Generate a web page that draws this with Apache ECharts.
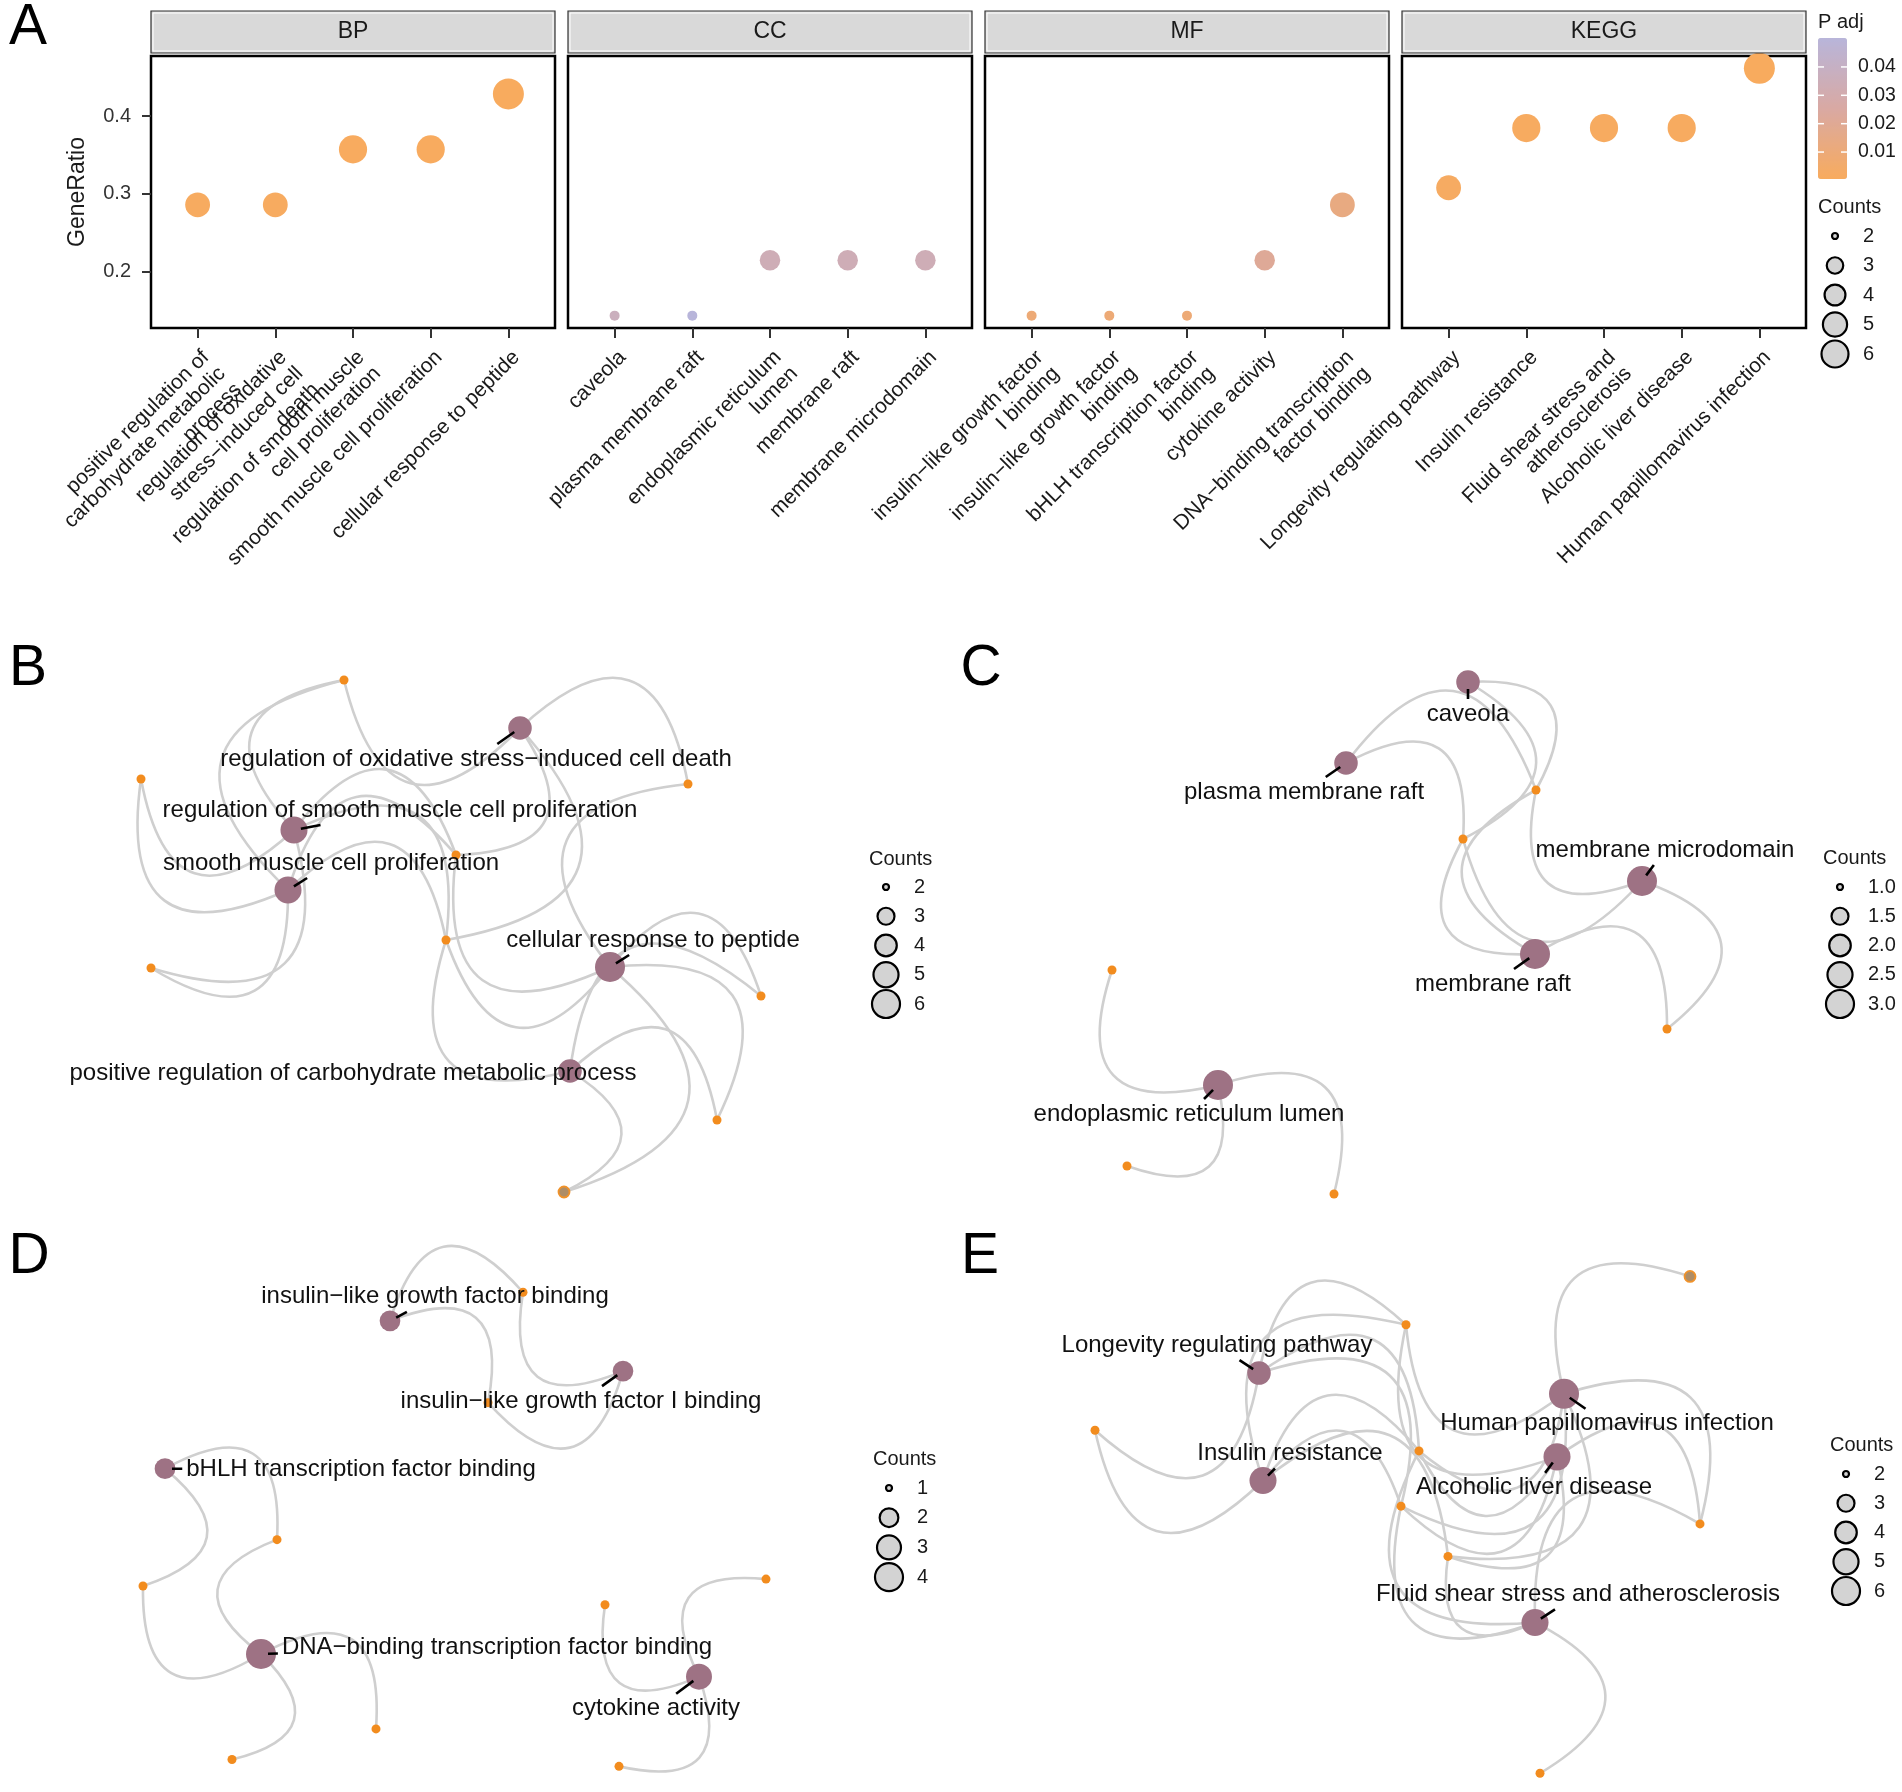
<!DOCTYPE html>
<html><head><meta charset="utf-8">
<script src="https://cdn.jsdelivr.net/npm/echarts@6/dist/echarts.min.js"></script>
<style>html,body{margin:0;padding:0;background:#fff}#c{width:1902px;height:1792px}</style>
</head><body><div id="c"></div>
<script>
// ================= DATA =================
// Panel A – enrichment dot plot
const facetNames = ['BP', 'CC', 'MF', 'KEGG'];
const bpTerms = ['positive regulation of\ncarbohydrate metabolic\nprocess', 'regulation of oxidative\nstress\u2212induced cell\ndeath', 'regulation of smooth muscle\ncell proliferation', 'smooth muscle cell proliferation', 'cellular response to peptide'];
const bpRatio = [0.2857, 0.2857, 0.3571, 0.3571, 0.4286];
const bpCount = [4, 4, 5, 5, 6];
const bpPadj = [0.0012, 0.0012, 0.0009, 0.0009, 0.0005];
const ccTerms = ['caveola', 'plasma membrane raft', 'endoplasmic reticulum\nlumen', 'membrane raft', 'membrane microdomain'];
const ccRatio = [0.1429, 0.1429, 0.2143, 0.2143, 0.2143];
const ccCount = [2, 2, 3, 3, 3];
const ccPadj = [0.037, 0.0502, 0.034, 0.034, 0.034];
const mfTerms = ['insulin\u2212like growth factor\nI binding', 'insulin\u2212like growth factor\nbinding', 'bHLH transcription factor\nbinding', 'cytokine activity', 'DNA\u2212binding transcription\nfactor binding'];
const mfRatio = [0.1429, 0.1429, 0.1429, 0.2143, 0.2857];
const mfCount = [2, 2, 2, 3, 4];
const mfPadj = [0.009, 0.009, 0.009, 0.021, 0.013];
const keggTerms = ['Longevity regulating pathway', 'Insulin resistance', 'Fluid shear stress and\natherosclerosis', 'Alcoholic liver disease', 'Human papillomavirus infection'];
const keggRatio = [0.3077, 0.3846, 0.3846, 0.3846, 0.4615];
const keggCount = [4, 5, 5, 5, 6];
const keggPadj = [0.002, 0.0012, 0.0012, 0.0012, 0.0006];
const yTicks = [0.2, 0.3, 0.4];
const padjTicks = [0.01, 0.02, 0.03, 0.04];
const countLegendA = [2, 3, 4, 5, 6];

// Panel B – BP network (layout coordinates)
const netBCats = ['regulation of oxidative stress\u2212induced cell death', 'regulation of smooth muscle cell proliferation', 'smooth muscle cell proliferation', 'cellular response to peptide', 'positive regulation of carbohydrate metabolic process'];
const netBCounts = [4, 5, 5, 6, 4];
const netBCatXY = [[52.0, 8.8], [29.4, 19.0], [28.8, 25.0], [61.0, 32.7], [57.0, 43.1]];
const netBGeneXY = [[34.4, 4.0], [14.1, 13.9], [68.8, 14.4], [45.6, 21.5], [44.6, 30.0], [15.1, 32.8], [76.1, 35.6], [71.7, 48.0], [56.4, 55.2]];
const netBGeneType = [0, 0, 0, 0, 0, 0, 0, 0, 1];
const netBEdges = [[0,0],[0,2],[0,3],[0,4],[1,0],[1,1],[1,3],[1,4],[1,5],[2,0],[2,1],[2,3],[2,4],[2,5],[3,2],[3,3],[3,4],[3,6],[3,7],[3,8],[4,4],[4,6],[4,7],[4,8]];
const netBLegend = [2, 3, 4, 5, 6];

// Panel C – CC network
const netCCats = ['caveola', 'plasma membrane raft', 'membrane microdomain', 'membrane raft', 'endoplasmic reticulum lumen'];
const netCCounts = [2, 2, 3, 3, 3];
const netCCatXY = [[51.7, 4.2], [39.5, 12.3], [69.1, 24.1], [58.4, 31.4], [26.7, 44.5]];
const netCGeneXY = [[58.5, 15.0], [51.2, 19.9], [71.6, 38.9], [16.1, 33.0], [17.6, 52.6], [38.3, 55.4]];
const netCGeneType = [0, 0, 0, 0, 0, 0];
const netCEdges = [[0,0],[0,1],[1,0],[1,1],[2,0],[2,1],[2,2],[3,0],[3,1],[3,2],[4,3],[4,4],[4,5]];
const netCLegend = ['1.0', '1.5', '2.0', '2.5', '3.0'];

// Panel D – MF network
const netDCats = ['insulin\u2212like growth factor binding', 'insulin\u2212like growth factor I binding', 'bHLH transcription factor binding', 'DNA\u2212binding transcription factor binding', 'cytokine activity'];
const netDCounts = [2, 2, 2, 4, 3];
const netDCatXY = [[39.0, 8.2], [62.3, 13.3], [16.5, 23.2], [26.1, 42.0], [69.9, 44.3]];
const netDGeneXY = [[52.3, 5.3], [48.8, 16.5], [27.7, 30.4], [14.3, 35.1], [60.5, 37.0], [76.6, 34.4], [37.6, 49.6], [23.2, 52.7], [61.9, 53.4]];
const netDGeneType = [0, 0, 0, 0, 0, 0, 0, 0, 0];
const netDEdges = [[0,0],[0,1],[1,0],[1,1],[2,2],[2,3],[3,2],[3,3],[3,6],[3,7],[4,4],[4,5],[4,8]];
const netDLegend = [1, 2, 3, 4];

// Panel E – KEGG network
const netECats = ['Longevity regulating pathway', 'Human papillomavirus infection', 'Insulin resistance', 'Alcoholic liver disease', 'Fluid shear stress and atherosclerosis'];
const netECounts = [4, 6, 5, 5, 5];
const netECatXY = [[30.8, 13.5], [61.3, 15.6], [31.2, 24.4], [60.6, 22.0], [58.4, 38.8]];
const netEGeneXY = [[73.9, 3.7], [45.5, 8.6], [14.4, 19.3], [46.8, 21.4], [45.0, 27.0], [74.9, 28.8], [49.7, 32.1], [58.9, 54.1]];
const netEGeneType = [1, 0, 0, 0, 0, 0, 0, 0];
const netEEdges = [[0,1],[0,2],[0,3],[0,4],[1,0],[1,1],[1,3],[1,4],[1,5],[1,6],[2,1],[2,2],[2,3],[2,4],[2,6],[3,1],[3,3],[3,4],[3,5],[3,6],[4,3],[4,4],[4,5],[4,6],[4,7]];
const netELegend = [2, 3, 4, 5, 6];

// ================= LAYOUT / STYLE =================
const FONT = '"Liberation Sans", Arial, Helvetica, sans-serif';
const CAT_COLOR = '#9E7284';
const GENE_COLOR = '#F28C1E';
const NET_FONT = 24;
// label placement (px offset of label centre from node centre), ggrepel-like
const netBLabelOff = [[-44, 31], [106, -20], [43, -27], [43, -27], [-217, 2]];
const netCLabelOff = [[0, 32], [-42, 29], [23, -31], [-42, 30], [-29, 29]];
const netDLabelOff = [[45, -24], [-42, 30], [196, 1], [236, -7], [-43, 32]];
const netELabelOff = [[-42, -28], [43, 30], [27, -27], [-23, 31], [43, -28]];

const aLeft = [151, 568, 985, 1402], aTop = 56, aW = 404, aH = 272;
const X_MIN = 0.4, X_MAX = 5.6; // discrete scale with ggplot expansion
const netGrids = [[0, 640], [951, 640], [0, 1240], [951, 1240]];
const NET_W = 951, NET_H = 560;
// legends: [circleCenterX, firstItemY, itemStep, titleX, titleY]
const legA = [1835, 236, 29.5, 1818, 207];
const legNets = [[886, 887, 29.25, 869, 859], [1840, 887, 29.25, 1823, 858], [889, 1488, 29.7, 873, 1459], [1846, 1474, 29.25, 1830, 1445]];

function sizeScale(vmin, vmax, dmin, dmax) {
  return c => dmin + (dmax - dmin) * Math.sqrt((c - vmin) / (vmax - vmin));
}
const measureCtx = document.createElement('canvas').getContext('2d');
function textW(t, size) { measureCtx.font = size + 'px ' + FONT; return measureCtx.measureText(t).width; }

const facets = [
  { terms: bpTerms, ratio: bpRatio, count: bpCount, padj: bpPadj },
  { terms: ccTerms, ratio: ccRatio, count: ccCount, padj: ccPadj },
  { terms: mfTerms, ratio: mfRatio, count: mfCount, padj: mfPadj },
  { terms: keggTerms, ratio: keggRatio, count: keggCount, padj: keggPadj }
];
const allRatio = [].concat(bpRatio, ccRatio, mfRatio, keggRatio);
const rMin = Math.min(...allRatio), rMax = Math.max(...allRatio);
const yMin = rMin - 0.05 * (rMax - rMin), yMax = rMax + 0.05 * (rMax - rMin);
const allPadj = [].concat(bpPadj, ccPadj, mfPadj, keggPadj);
const pMin = Math.min(...allPadj), pMax = Math.max(...allPadj);
const sizeA = sizeScale(Math.min(...countLegendA), Math.max(...countLegendA), 10, 31);

const nets = [
  { id: 'B', cats: netBCats, counts: netBCounts, catXY: netBCatXY, geneXY: netBGeneXY, geneType: netBGeneType, edges: netBEdges, legend: netBLegend, off: netBLabelOff },
  { id: 'C', cats: netCCats, counts: netCCounts, catXY: netCCatXY, geneXY: netCGeneXY, geneType: netCGeneType, edges: netCEdges, legend: netCLegend, off: netCLabelOff },
  { id: 'D', cats: netDCats, counts: netDCounts, catXY: netDCatXY, geneXY: netDGeneXY, geneType: netDGeneType, edges: netDEdges, legend: netDLegend, off: netDLabelOff },
  { id: 'E', cats: netECats, counts: netECounts, catXY: netECatXY, geneXY: netEGeneXY, geneType: netEGeneType, edges: netEEdges, legend: netELegend, off: netELabelOff }
];

const grid = [], xAxis = [], yAxis = [], series = [], graphic = [];

// ---- Panel A grids (points on a value scale with ggplot-like expansion)
facets.forEach((f, i) => {
  grid.push({ left: aLeft[i], top: aTop, width: aW, height: aH, show: true, borderColor: '#000', borderWidth: 2.5, backgroundColor: '#fff' });
  xAxis.push({ type: 'value', gridIndex: i, min: X_MIN, max: X_MAX, splitLine: { show: false }, axisLine: { show: false }, axisTick: { show: false }, axisLabel: { show: false } });
  yAxis.push({
    type: 'value', gridIndex: i, min: yMin, max: yMax, splitLine: { show: false }, axisLine: { show: false },
    axisTick: { show: i === 0, customValues: yTicks, length: 9, lineStyle: { color: '#333', width: 2 } },
    axisLabel: { show: i === 0, customValues: yTicks, margin: 20, fontSize: 20, color: '#333', fontFamily: FONT, formatter: v => v.toFixed(1) },
    name: i === 0 ? 'GeneRatio' : '', nameLocation: 'middle', nameRotate: 90, nameGap: 62,
    nameTextStyle: { fontSize: 23, color: '#1a1a1a', fontFamily: FONT }
  });
  series.push({
    type: 'scatter', xAxisIndex: i, yAxisIndex: i, z: 3, silent: true,
    data: f.terms.map((t, k) => [k + 1, f.ratio[k], f.padj[k], f.count[k]]),
    encode: { x: 0, y: 1 },
    symbolSize: v => sizeA(v[3]),
    itemStyle: { opacity: 1 }
  });
});

// ---- Network grids
nets.forEach((n, k) => {
  const gi = 4 + k;
  grid.push({ left: netGrids[k][0], top: netGrids[k][1], width: NET_W, height: NET_H, show: false });
  xAxis.push({ type: 'value', gridIndex: gi, min: 0, max: NET_W / 10, show: false });
  yAxis.push({ type: 'value', gridIndex: gi, min: 0, max: NET_H / 10, inverse: true, show: false });
});
nets.forEach((n, k) => {
  const gi = 4 + k;
  const lv = n.legend.map(Number);
  const size = sizeScale(Math.min(...lv), Math.max(...lv), 8, 30);
  const nodes = n.cats.map((c, i) => ({ name: c, value: n.catXY[i], symbolSize: size(n.counts[i]), itemStyle: { color: CAT_COLOR } }));
  n.geneXY.forEach((g, j) => nodes.push({
    name: n.id + '_gene' + j, value: g, symbolSize: n.geneType[j] ? 11 : 9,
    itemStyle: n.geneType[j] ? { color: '#AE8D66', borderColor: '#F0922A', borderWidth: 1.8 } : { color: GENE_COLOR }
  }));
  const links = n.edges.map(e => ({ source: e[0], target: n.cats.length + e[1] }));
  series.push({
    type: 'graph', layout: 'none', coordinateSystem: 'cartesian2d', xAxisIndex: gi, yAxisIndex: gi,
    data: nodes, links: links, label: { show: false }, silent: true, z: 2,
    lineStyle: { color: '#CFCFCF', width: 2.6, opacity: 1, curveness: 0.9 },
    emphasis: { disabled: true }
  });
});
nets.forEach((n, k) => {
  const gi = 4 + k;
  series.push({
    type: 'custom', xAxisIndex: gi, yAxisIndex: gi, z: 10, silent: true, clip: false,
    data: n.catXY.map(p => p.slice()),
    renderItem: function (params, api) {
      const i = params.dataIndex;
      const p = api.coord([api.value(0), api.value(1)]);
      const off = n.off[i];
      const L = [p[0] + off[0], p[1] + off[1]];
      const hw = textW(n.cats[i], NET_FONT) / 2 + 4, hh = NET_FONT / 2 + 3;
      const ax = Math.abs(off[0]), ay = Math.abs(off[1]);
      const s = Math.min(ax > 0 ? hw / ax : Infinity, ay > 0 ? hh / ay : Infinity);
      const len = Math.hypot(off[0], off[1]);
      const children = [];
      const startD = 7;
      if (s < 1 && (1 - s) * len > startD + 2) {
        const E = [L[0] - s * off[0], L[1] - s * off[1]];
        const S = [p[0] + off[0] / len * startD, p[1] + off[1] / len * startD];
        children.push({ type: 'line', shape: { x1: S[0], y1: S[1], x2: E[0], y2: E[1] }, style: { stroke: '#000', lineWidth: 2.6 } });
      }
      children.push({ type: 'text', x: L[0], y: L[1], style: { text: n.cats[i], align: 'center', verticalAlign: 'middle', textAlign: 'center', textVerticalAlign: 'middle', fontSize: NET_FONT, fontFamily: FONT, fill: '#111' } });
      return { type: 'group', children: children };
    }
  });
});

// ---- Size legends (drawn through small grids)
function addSizeLegend(gi, values, leg, dmin, dmax) {
  const lv = values.map(Number);
  const size = sizeScale(Math.min(...lv), Math.max(...lv), dmin, dmax);
  const h = leg[2] * values.length;
  grid.push({ left: leg[0] - 15, top: leg[1] - leg[2] / 2, width: 30, height: h, show: false });
  xAxis.push({ type: 'value', gridIndex: gi, min: -1, max: 1, show: false });
  yAxis.push({ type: 'category', gridIndex: gi, data: values.map(String), inverse: true, position: 'right',
    axisLine: { show: false }, axisTick: { show: false }, splitLine: { show: false },
    axisLabel: { margin: 13, fontSize: 20, color: '#1a1a1a', fontFamily: FONT, interval: 0 } });
  series.push({ type: 'scatter', xAxisIndex: gi, yAxisIndex: gi, silent: true, z: 3,
    data: values.map((v, k) => [0, k]), symbolSize: v => size(lv[v[1]]),
    itemStyle: { color: '#D3D3D3', borderColor: '#000', borderWidth: 2.2, opacity: 1 } });
  graphic.push({ type: 'text', x: leg[3], y: leg[4], z: 100, style: { text: 'Counts', fontSize: 20, fontFamily: FONT, fill: '#1a1a1a', align: 'left', textAlign: 'left', verticalAlign: 'middle', textVerticalAlign: 'middle' } });
}
addSizeLegend(8, countLegendA, legA, 6, 27);
nets.forEach((n, k) => addSizeLegend(9 + k, n.legend, legNets[k], 6, 28));

// ---- Category axes for the A facets: a grid whose bands line up with the expanded discrete scale
facets.forEach((f, i) => {
  const gi = 13 + i;
  const unit = aW / (X_MAX - X_MIN);
  const n = f.terms.length;
  const left = aLeft[i] + (1 - X_MIN) * unit - unit / 2;
  grid.push({ left: left, top: aTop, width: unit * n, height: aH, show: false });
  xAxis.push({
    type: 'category', gridIndex: gi, data: f.terms, boundaryGap: true, axisLine: { show: false },
    axisTick: { show: true, alignWithLabel: true, interval: 0, length: 10, lineStyle: { color: '#333', width: 2 } },
    axisLabel: { show: true, interval: 0, rotate: 45, align: 'right', verticalAlign: 'top', margin: 18,
      fontSize: 21, lineHeight: 23, color: '#1a1a1a', fontFamily: FONT }
  });
  yAxis.push({ type: 'value', gridIndex: gi, min: 0, max: 1, show: false });
});

// ---- Strips
facetNames.forEach((f, i) => {
  graphic.push({ type: 'rect', z: 100, shape: { x: aLeft[i], y: 11, width: aW, height: 42 }, style: { fill: '#D9D9D9', stroke: '#333', lineWidth: 1.2 } });
  graphic.push({ type: 'rect', z: 101, shape: { x: aLeft[i] + 2, y: 13, width: aW - 4, height: 38 }, style: { fill: 'none', stroke: '#fff', lineWidth: 1 } });
  graphic.push({ type: 'text', z: 102, x: aLeft[i] + aW / 2, y: 32, style: { text: f, fontSize: 23, fontFamily: FONT, fill: '#1a1a1a', align: 'center', textAlign: 'center', verticalAlign: 'middle', textVerticalAlign: 'middle' } });
});

// ---- Colour bar ticks / labels
const cbLeft = 1818, cbTop = 38, cbW = 29, cbH = 141;
graphic.push({ type: 'text', x: 1818, y: 22, z: 100, style: { text: 'P adj', fontSize: 20, fontFamily: FONT, fill: '#1a1a1a', align: 'left', textAlign: 'left', verticalAlign: 'middle', textVerticalAlign: 'middle' } });
padjTicks.forEach(t => {
  const y = cbTop + (pMax - t) / (pMax - pMin) * cbH;
  graphic.push({ type: 'line', z: 100, shape: { x1: cbLeft, y1: y, x2: cbLeft + 6, y2: y }, style: { stroke: '#fff', lineWidth: 1.5 } });
  graphic.push({ type: 'line', z: 100, shape: { x1: cbLeft + cbW - 6, y1: y, x2: cbLeft + cbW, y2: y }, style: { stroke: '#fff', lineWidth: 1.5 } });
  graphic.push({ type: 'text', z: 100, x: 1858, y: y, style: { text: t.toFixed(2), fontSize: 19.5, fontFamily: FONT, fill: '#1a1a1a', align: 'left', textAlign: 'left', verticalAlign: 'middle', textVerticalAlign: 'middle' } });
});

// ---- Panel letters
[['A', 28, 28], ['B', 28, 669], ['C', 981, 669], ['D', 29, 1257], ['E', 980, 1257]].forEach(l => {
  graphic.push({ type: 'text', z: 100, x: l[1], y: l[2], style: { text: l[0], fontSize: 57, fontFamily: FONT, fill: '#000', align: 'center', textAlign: 'center', verticalAlign: 'middle', textVerticalAlign: 'middle' } });
});

const option = {
  animation: false,
  backgroundColor: '#fff',
  textStyle: { fontFamily: FONT },
  grid: grid, xAxis: xAxis, yAxis: yAxis, series: series,
  visualMap: [{
    type: 'continuous', seriesIndex: [0, 1, 2, 3], dimension: 2, min: pMin, max: pMax,
    inRange: { color: ['#F8AB5E', '#D9A9A3', '#B8B5DA'] },
    left: cbLeft, top: cbTop, itemWidth: cbW, itemHeight: cbH, padding: 0, calculable: false, orient: 'vertical'
  }],
  graphic: { elements: graphic }
};
const chart = echarts.init(document.getElementById('c'), null, { renderer: 'canvas', width: 1902, height: 1792 });
chart.setOption(option);
</script></body></html>
